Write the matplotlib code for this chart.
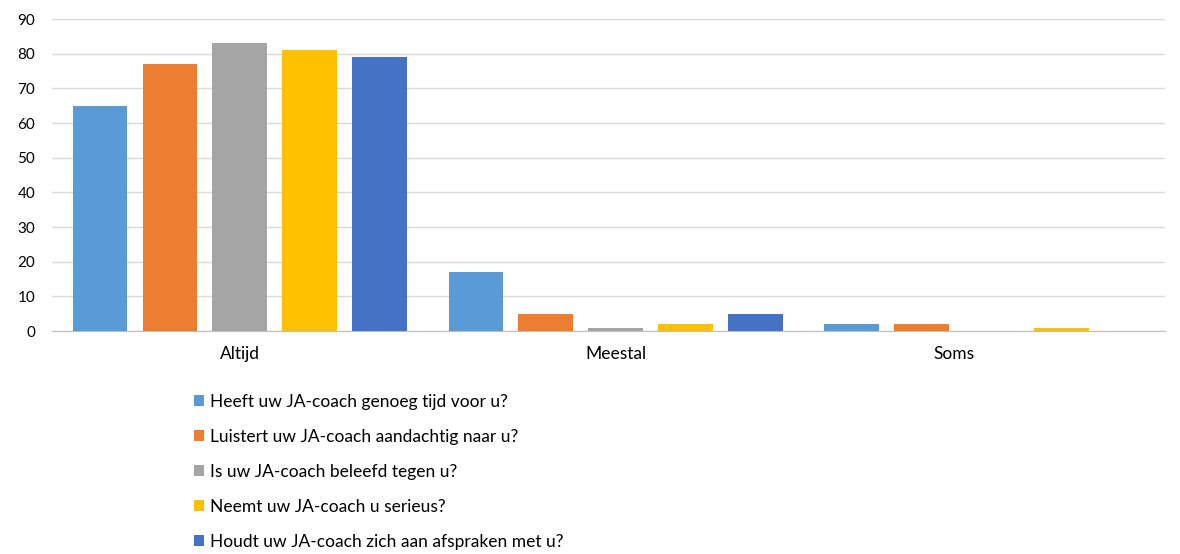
import numpy as np
import matplotlib.pyplot as plt
import matplotlib.transforms as mtransforms

plt.rcParams['font.family'] = ['Lato', 'DejaVu Sans']

# data
categories = ['Altijd', 'Meestal', 'Soms']
series_names = [
    'Heeft uw JA-coach genoeg tijd voor u?',
    'Luistert uw JA-coach aandachtig naar u?',
    'Is uw JA-coach beleefd tegen u?',
    'Neemt uw JA-coach u serieus?',
    'Houdt uw JA-coach zich aan afspraken met u?',
]
tijd = [65, 17, 2]
luistert = [77, 5, 2]
beleefd = [83, 1, 0]
serieus = [81, 2, 1]
afspraken = [79, 5, 0]
values = [tijd, luistert, beleefd, serieus, afspraken]
colors = ['#5B9BD5', '#ED7D31', '#A5A5A5', '#FFC000', '#4472C4']

fig = plt.figure(figsize=(11.8, 5.54), dpi=100)
ax = fig.add_axes([0.044, 0.4025, 0.943, 0.5632])

x = np.arange(len(categories))
slot = 0.186
width = 0.146
handles = []
for i, (vals, col) in enumerate(zip(values, colors)):
    b = ax.bar(x + (i - 2) * slot, vals, width, color=col, zorder=3)
    handles.append(b)

ax.set_xlim(-0.5, 2.46)
ax.set_ylim(0, 90)
ax.set_yticks(range(0, 91, 10))
ax.yaxis.grid(True, color='#d9d9d9', linewidth=1)
ax.set_axisbelow(True)
for s in ['top', 'right', 'left']:
    ax.spines[s].set_visible(False)
ax.spines['bottom'].set_color('#bfbfbf')
ax.tick_params(axis='both', length=0, labelsize=11, colors='#000000')
ax.tick_params(axis='y', pad=12)
ax.tick_params(axis='x', pad=11, labelsize=12.5)
ax.set_xticks(x)
ax.set_xticklabels(categories)

# Soms label sits a bit left of its group in the original
lbl = ax.get_xticklabels()[2]
lbl.set_transform(lbl.get_transform() + mtransforms.ScaledTranslation(-0.38, 0, fig.dpi_scale_trans))

fig.legend(handles, series_names, loc='upper left', bbox_to_anchor=(0.1585, 0.302),
           frameon=False, fontsize=12.5, handlelength=0.58, handleheight=0.58,
           handletextpad=0.35, labelspacing=1.1, borderaxespad=0)

fig.savefig('out.png', dpi=100)
